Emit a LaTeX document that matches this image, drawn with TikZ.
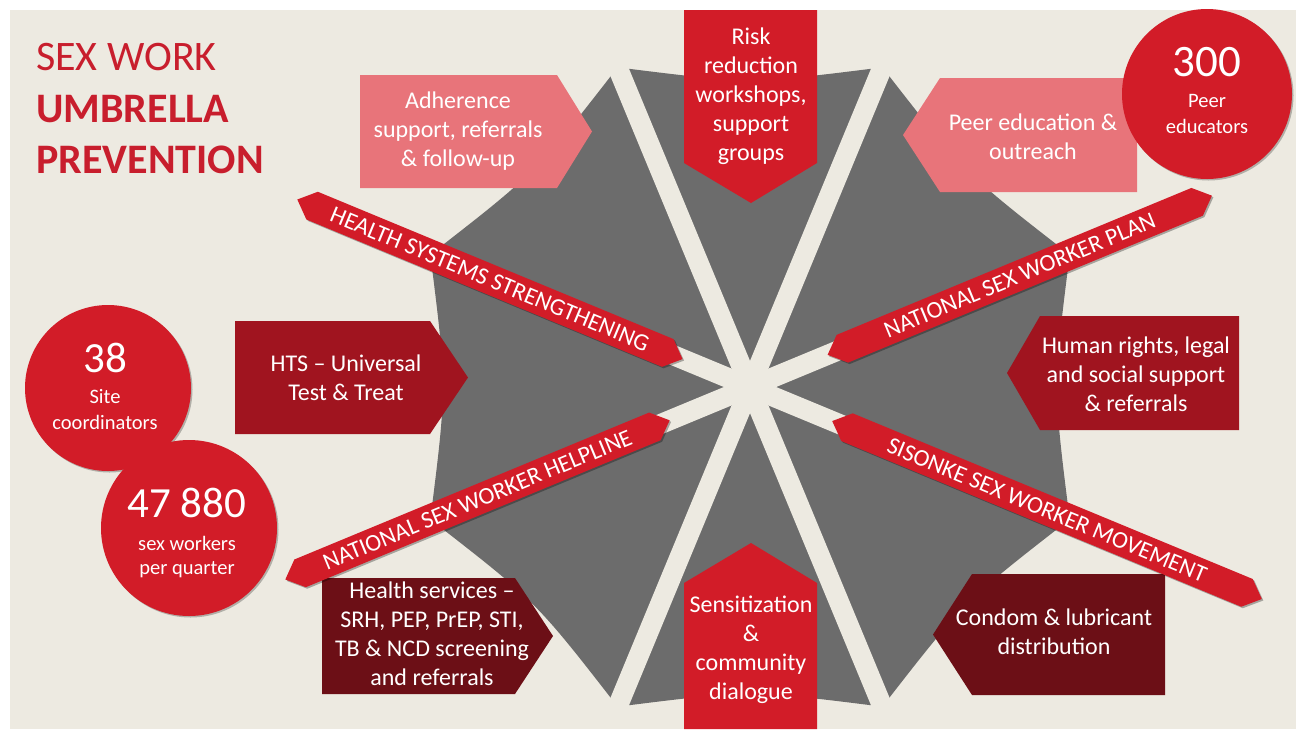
\documentclass[tikz,border=0pt]{standalone}
\usepackage{fontspec}
\setmainfont{Carlito}
\usetikzlibrary{calc,shadows}
\definecolor{bg}{RGB}{237,234,225}
\definecolor{umb}{RGB}{108,108,108}
\definecolor{red1}{RGB}{210,28,40}
\definecolor{pink1}{RGB}{232,116,122}
\definecolor{dark1}{RGB}{160,20,31}
\definecolor{dark2}{RGB}{108,15,22}
\definecolor{titlered}{RGB}{200,30,45}
\begin{document}
\begin{tikzpicture}[x=1pt,y=-1pt,
  rib/.style={draw=bg,line width=20pt},
  boxtxt/.style={text=white,align=center,inner sep=0pt,font=\fontsize{24}{29}\selectfont},
  bantxt/.style={text=white,inner sep=0pt,font=\fontsize{24}{28}\selectfont},
  numtxt/.style={text=white,inner sep=0pt,anchor=base,font=\fontsize{43}{50}\selectfont},
  smalltxt/.style={text=white,inner sep=0pt,anchor=base,font=\fontsize{20.5}{25}\selectfont},
  titletxt/.style={text=titlered,inner sep=0pt,anchor=base west},
  bannerfill/.style={fill=red1,drop shadow={shadow xshift=1.5pt,shadow yshift=-1.5pt,opacity=0.3,fill=black}},
  disc/.style={circle,fill=red1,inner sep=0pt,drop shadow={shadow xshift=1.5pt,shadow yshift=-1.5pt,opacity=0.25,fill=black}}]
\useasboundingbox (0,0) rectangle (1296,729);
\fill[white] (0,0) rectangle (1296,729);
\fill[bg] (10,10) rectangle (1296,729);
\coordinate (C) at (750,387);
\def\RR{346}
\def\QQ{303}
% umbrella canopy
\fill[umb] ($(C)+(22.5:\RR)$)
  .. controls ($(C)+(45:\QQ)$) .. ($(C)+(67.5:\RR)$)
  .. controls ($(C)+(90:\QQ)$) .. ($(C)+(112.5:\RR)$)
  .. controls ($(C)+(135:\QQ)$) .. ($(C)+(157.5:\RR)$)
  .. controls ($(C)+(180:\QQ)$) .. ($(C)+(202.5:\RR)$)
  .. controls ($(C)+(225:\QQ)$) .. ($(C)+(247.5:\RR)$)
  .. controls ($(C)+(270:\QQ)$) .. ($(C)+(292.5:\RR)$)
  .. controls ($(C)+(315:\QQ)$) .. ($(C)+(337.5:\RR)$)
  .. controls ($(C)+(360:\QQ)$) .. ($(C)+(382.5:\RR)$) -- cycle;
% ribs
\foreach \a in {22.5,67.5,...,337.5} \draw[rib] (C) -- ($(C)+(\a:352)$);
% arrow boxes
\fill[pink1] (360,75) -- (557,75) -- (592,131.5) -- (557,188) -- (360,188) -- cycle;
\node[boxtxt] (adh) at (458,131) {Adherence\\support, referrals\\\& follow-up};
\fill[red1] (684,10) -- (817,10) -- (817,163) -- (751,203) -- (684,163) -- cycle;
\node[boxtxt] (risk) at (751,96) {Risk\\reduction\\workshops,\\support\\groups};
\fill[pink1] (1137,78) -- (940,78) -- (903,135) -- (940,192) -- (1137,192) -- cycle;
\node[boxtxt] (peer) at (1033,137) {Peer education \&\\outreach};
\fill[dark1] (235,321) -- (430,321) -- (468,377.5) -- (430,434) -- (235,434) -- cycle;
\node[boxtxt] (hts) at (346,378) {HTS -- Universal\\Test \& Treat};
\fill[dark1] (1239,316) -- (1040,316) -- (1007,373) -- (1040,430) -- (1239,430) -- cycle;
\node[boxtxt] (hum) at (1136,374) {Human rights, legal\\and social support\\\& referrals};
\fill[dark2] (322,578) -- (515,578) -- (553,636) -- (515,694) -- (322,694) -- cycle;
\node[boxtxt] (hs) at (432,634) {Health services --\\SRH, PEP, PrEP, STI,\\TB \& NCD screening\\and referrals};
\fill[red1] (684,729) -- (684,583) -- (751,543) -- (817,583) -- (817,729) -- cycle;
\node[boxtxt] (sens) at (751,650) {Sensitization\\\&\\community\\dialogue};
\fill[dark2] (1165,574) -- (972,574) -- (933,634.5) -- (972,695) -- (1165,695) -- cycle;
\node[boxtxt] (cond) at (1054,632) {Condom \& lubricant\\distribution};
% circles
\node[disc,minimum size=170pt] (c300) at (1207,94) {};
\node[numtxt,font=\fontsize{45}{50}\selectfont] (n300) at (1207,76) {300};
\node[smalltxt] (l300a) at (1207,107) {Peer};
\node[smalltxt] (l300b) at (1207,133) {educators};
\node[disc,minimum size=166pt] (c38) at (108,388) {};
\node[numtxt] (n38) at (105,372) {38};
\node[smalltxt] (l38a) at (105,403) {Site};
\node[smalltxt] (l38b) at (105,429) {coordinators};
\node[disc,minimum size=176pt] (c47) at (189,528) {};
\node[numtxt] (n47) at (187,517) {47 880};
\node[smalltxt] (l47a) at (187,550) {sex workers};
\node[smalltxt] (l47b) at (187,574) {per quarter};
% banners
\foreach \a/\da/\db/\nm in {202.5/73/490/b1, 337.5/84/500/b2, 157.5/87/503/b3, 22.5/89/554/b4}{
  \fill[bannerfill] ($(C)+(\a:\da)$) -- ($(C)+(\a:{\da+16})+({\a+90}:15)$) -- ($(C)+(\a:{\db-16})+({\a+90}:15)$)
    -- ($(C)+(\a:\db)$) -- ($(C)+(\a:{\db-16})+({\a-90}:15)$) -- ($(C)+(\a:{\da+16})+({\a-90}:15)$) -- cycle;
  \coordinate (\nm) at ($(C)+(\a:{(\da+\db)/2})$);
}
\node[bantxt,rotate=-22.5] (hss) at (b1) {HEALTH SYSTEMS STRENGTHENING};
\node[bantxt,rotate=22.5] (nsp) at (b2) {NATIONAL SEX WORKER PLAN};
\node[bantxt,rotate=22.5] (nsh) at (b3) {NATIONAL SEX WORKER HELPLINE};
\node[bantxt,rotate=-22.5] (ssm) at (b4) {SISONKE SEX WORKER MOVEMENT};
% title
\node[titletxt,font=\fontsize{42}{50}\selectfont] (t1) at (36,70) {SEX WORK};
\node[titletxt,font=\fontsize{42}{50}\selectfont\bfseries] (t2) at (36,122) {UMBRELLA};
\node[titletxt,font=\fontsize{42}{50}\selectfont\bfseries] (t3) at (36,173) {PREVENTION};
\end{tikzpicture}
\end{document}
